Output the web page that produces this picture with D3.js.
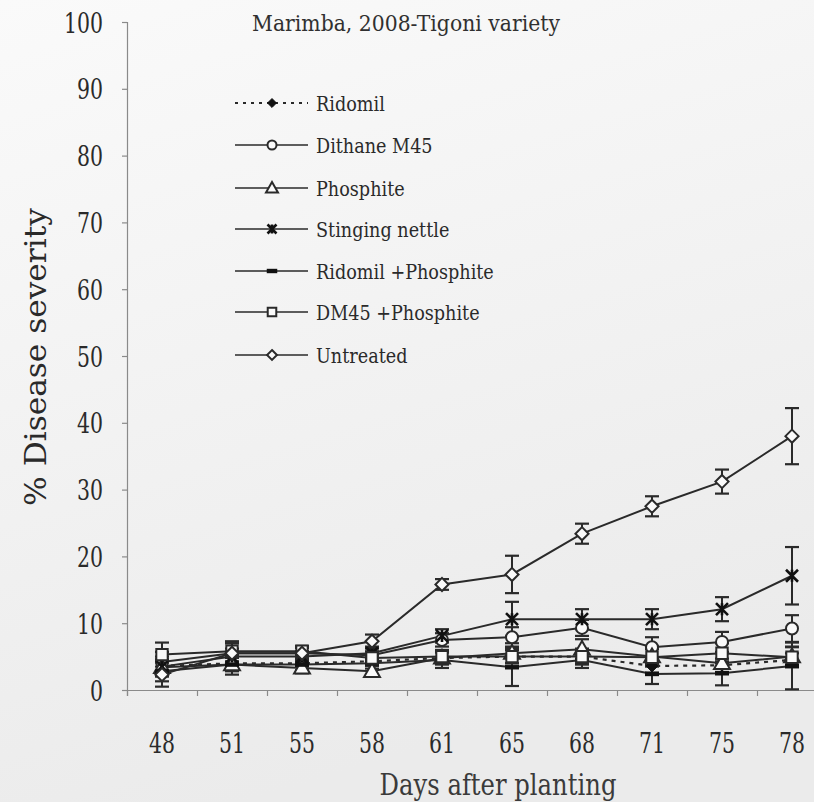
<!DOCTYPE html>
<html>
<head>
<meta charset="utf-8">
<script src="https://cdn.jsdelivr.net/npm/d3@7"></script>
<style>
  html, body { margin: 0; padding: 0; background: #f1f1f1; }
  svg { display: block; }
</style>
</head>
<body>
<svg id="chart" width="814" height="802"></svg>
<script>
// Sampling dates (days after planting)
const days = ["48", "51", "55", "58", "61", "65", "68", "71", "75", "78"];
const yTicks = [0, 10, 20, 30, 40, 50, 60, 70, 80, 90, 100];

// Mean % disease severity per treatment, with error bar half-widths
const ridomil          = [3.6, 4.0, 4.0, 4.3, 4.8, 5.0, 5.0, 3.6, 3.7, 4.5];
const ridomilErr       = [1.0, 1.0, 0.5, 0.5, 0.8, 1.0, 1.0, 1.0, 1.0, 1.0];
const dithane          = [4.2, 5.5, 5.5, 5.2, 7.5, 7.9, 9.3, 6.4, 7.2, 9.2];
const dithaneErr       = [1.5, 1.5, 1.0, 1.0, 1.0, 1.5, 1.2, 1.5, 1.5, 2.0];
const phosphite        = [3.4, 3.8, 3.3, 2.8, 4.8, 5.5, 6.1, 5.0, 4.0, 5.0];
const phosphiteErr     = [1.0, 1.0, 0.8, 0.8, 1.0, 1.5, 1.5, 1.5, 1.5, 1.5];
const nettle           = [3.5, 5.0, 5.0, 5.5, 8.1, 10.6, 10.6, 10.6, 12.1, 17.1];
const nettleErr        = [1.5, 1.2, 0.8, 1.0, 1.0, 2.6, 1.5, 1.5, 1.8, 4.3];
const ridomilPhos      = [2.8, 3.8, 3.8, 4.0, 4.5, 3.4, 4.5, 2.4, 2.5, 3.6];
const ridomilPhosErr   = [1.5, 1.5, 0.8, 0.8, 1.2, 2.8, 1.2, 1.5, 1.8, 3.5];
const dm45Phos         = [5.3, 5.8, 5.8, 4.8, 5.0, 5.0, 5.0, 4.9, 5.5, 4.9];
const dm45PhosErr      = [1.8, 1.5, 0.8, 1.0, 1.0, 1.5, 1.2, 1.2, 1.5, 1.5];
const untreated        = [2.3, 5.5, 5.5, 7.3, 15.8, 17.3, 23.4, 27.5, 31.2, 38.0];
const untreatedErr     = [1.8, 1.5, 0.8, 1.0, 0.8, 2.8, 1.5, 1.5, 1.8, 4.2];

const treatments = ["Ridomil", "Dithane M45", "Phosphite", "Stinging nettle",
                    "Ridomil +Phosphite", "DM45 +Phosphite", "Untreated"];

const series = [
  { name: treatments[0], values: ridomil,     err: ridomilErr,     marker: "filledDiamond", dashed: true },
  { name: treatments[1], values: dithane,     err: dithaneErr,     marker: "circle" },
  { name: treatments[2], values: phosphite,   err: phosphiteErr,   marker: "triangle" },
  { name: treatments[3], values: nettle,      err: nettleErr,      marker: "star" },
  { name: treatments[4], values: ridomilPhos, err: ridomilPhosErr, marker: "dash" },
  { name: treatments[5], values: dm45Phos,    err: dm45PhosErr,    marker: "square" },
  { name: treatments[6], values: untreated,   err: untreatedErr,   marker: "diamond" }
];

const svg = d3.select("#chart");
const W = 814, H = 802;
const ink = "#2a2a2a";
const axisInk = "#8a8a8a";
const FONT = "DejaVu Serif";

// soft paper background
const defs = svg.append("defs");
const grad = defs.append("linearGradient").attr("id", "paper")
  .attr("x1", 0).attr("y1", 0).attr("x2", 0.3).attr("y2", 1);
grad.append("stop").attr("offset", "0%").attr("stop-color", "#fafafa");
grad.append("stop").attr("offset", "100%").attr("stop-color", "#ebebeb");
svg.append("rect").attr("width", W).attr("height", H).attr("fill", "url(#paper)");

// condensed serif text: squeeze horizontally to a given width
function fittedText(parent, opts) {
  const { x, y, text, size, width, anchor = "middle", rotate = 0, fill = ink } = opts;
  const g = parent.append("g");
  const t = g.append("text").attr("font-family", FONT).attr("font-size", size)
    .attr("fill", fill).attr("text-anchor", anchor).text(text);
  const natural = t.node().getComputedTextLength();
  const sx = width / natural;
  g.attr("transform", `translate(${x},${y}) rotate(${rotate}) scale(${sx},1)`);
  return g;
}

// scales
const x0 = 127, bandW = 70;
const x = d3.scaleBand().domain(days).range([x0, x0 + bandW * days.length]).padding(0);
const xEdge = d3.scaleLinear().domain([0, days.length]).range([x0, x0 + bandW * days.length]);
const y = d3.scaleLinear().domain([0, 100]).range([690, 22]);
const cx = d => x(d) + x.bandwidth() / 2;
const tickSquash = 0.73;

// y axis
const yAxis = svg.append("g").attr("transform", `translate(${x0},0)`)
  .call(d3.axisLeft(y).tickValues(yTicks).tickSize(5).tickPadding(19));
yAxis.attr("font-family", FONT);
yAxis.select(".domain").attr("stroke", axisInk).attr("stroke-width", 1.2);
yAxis.selectAll(".tick line").attr("stroke", axisInk).attr("stroke-width", 1.2);
yAxis.selectAll(".tick text").attr("font-size", 28).attr("fill", ink).attr("dy", "0.36em")
  .attr("x", 0).attr("transform", `translate(-24,0) scale(${tickSquash},1)`);

// x axis: ticks sit between sampling dates
const xAxisLine = svg.append("g").attr("transform", `translate(0,${y(0)})`)
  .call(d3.axisBottom(xEdge).tickValues(d3.range(0, days.length + 1)).tickSize(6).tickFormat(""));
xAxisLine.select(".domain").attr("stroke", axisInk).attr("stroke-width", 1.2);
xAxisLine.selectAll(".tick line").attr("stroke", axisInk).attr("stroke-width", 1.2);

const xLabels = svg.append("g").attr("transform", `translate(0,${y(0)})`)
  .call(d3.axisBottom(x).tickSize(0).tickPadding(43));
xLabels.attr("font-family", FONT);
xLabels.select(".domain").remove();
xLabels.selectAll(".tick text").attr("font-size", 28).attr("fill", ink)
  .attr("transform", `scale(${tickSquash},1)`);

// titles
fittedText(svg, { x: 406, y: 31, text: "Marimba, 2008-Tigoni variety", size: 23, width: 308, fill: "#303030" });
fittedText(svg, { x: 498, y: 795, text: "Days after planting", size: 30, width: 237, fill: "#3a3a3a" });
fittedText(svg, { x: 46, y: 357, text: "% Disease severity", size: 30, width: 298, rotate: -90 });

// marker drawing
function drawMarker(g, type, px, py, scale = 1) {
  const s = scale;
  switch (type) {
    case "circle":
      g.append("circle").attr("cx", px).attr("cy", py).attr("r", 6 * s)
        .attr("fill", "#fafafa").attr("stroke", ink).attr("stroke-width", 2);
      break;
    case "square":
      g.append("path").attr("transform", `translate(${px},${py})`)
        .attr("d", d3.symbol(d3.symbolSquare, 130 * s * s)())
        .attr("fill", "#fafafa").attr("stroke", ink).attr("stroke-width", 2);
      break;
    case "triangle":
      g.append("path").attr("transform", `translate(${px},${py + 1})`)
        .attr("d", d3.symbol(d3.symbolTriangle, 110 * s * s)())
        .attr("fill", "#fafafa").attr("stroke", ink).attr("stroke-width", 2);
      break;
    case "diamond":
      g.append("path").attr("transform", `translate(${px},${py})`)
        .attr("d", d3.symbol(d3.symbolDiamond2, 110 * s * s)())
        .attr("fill", "#fafafa").attr("stroke", ink).attr("stroke-width", 2);
      break;
    case "filledDiamond":
      g.append("path").attr("transform", `translate(${px},${py})`)
        .attr("d", d3.symbol(d3.symbolDiamond2, 90 * s * s)())
        .attr("fill", "#111").attr("stroke", "#111").attr("stroke-width", 1);
      break;
    case "star": {
      const r = 6 * s;
      g.append("path")
        .attr("d", `M${px - r},${py - r}L${px + r},${py + r}M${px + r},${py - r}L${px - r},${py + r}M${px},${py - r}L${px},${py + r}`)
        .attr("fill", "none").attr("stroke", "#111").attr("stroke-width", 2.6);
      break;
    }
    case "dash":
      g.append("rect").attr("x", px - 7 * s).attr("y", py - 2.2).attr("width", 14 * s).attr("height", 4.4)
        .attr("fill", "#111");
      break;
  }
}

const plot = svg.append("g");
const line = d3.line().x((v, i) => cx(days[i])).y(v => y(v));

// error bars
series.forEach(s => {
  const g = plot.append("g");
  s.values.forEach((v, i) => {
    const px = cx(days[i]);
    const top = y(v + s.err[i]), bot = y(Math.max(0, v - s.err[i]));
    g.append("line").attr("x1", px).attr("x2", px).attr("y1", top).attr("y2", bot)
      .attr("stroke", ink).attr("stroke-width", 2);
    [top, bot].forEach(yy => g.append("line").attr("x1", px - 7).attr("x2", px + 7)
      .attr("y1", yy).attr("y2", yy).attr("stroke", ink).attr("stroke-width", 2.2));
  });
});

// lines
series.forEach(s => {
  plot.append("path").attr("d", line(s.values)).attr("fill", "none")
    .attr("stroke", ink).attr("stroke-width", s.dashed ? 2.2 : 2)
    .attr("stroke-dasharray", s.dashed ? "4,5" : null);
});

// markers
series.forEach(s => {
  const g = plot.append("g");
  s.values.forEach((v, i) => drawMarker(g, s.marker, cx(days[i]), y(v)));
});

// legend
const legend = svg.append("g");
const legY = [103, 145, 188, 229, 271, 312, 355];
series.forEach((s, i) => {
  const ly = legY[i];
  legend.append("line").attr("x1", 235).attr("x2", 308).attr("y1", ly).attr("y2", ly)
    .attr("stroke", ink).attr("stroke-width", s.dashed ? 1.8 : 1.6)
    .attr("stroke-dasharray", s.dashed ? "3,5" : null);
  drawMarker(legend, s.marker, 272, ly, 0.75);
  legend.append("g").attr("transform", `translate(316,${ly}) scale(0.84,1)`)
    .append("text").attr("dy", "0.36em")
    .attr("font-family", FONT).attr("font-size", 21).attr("fill", ink)
    .text(s.name);
});
</script>
</body>
</html>
